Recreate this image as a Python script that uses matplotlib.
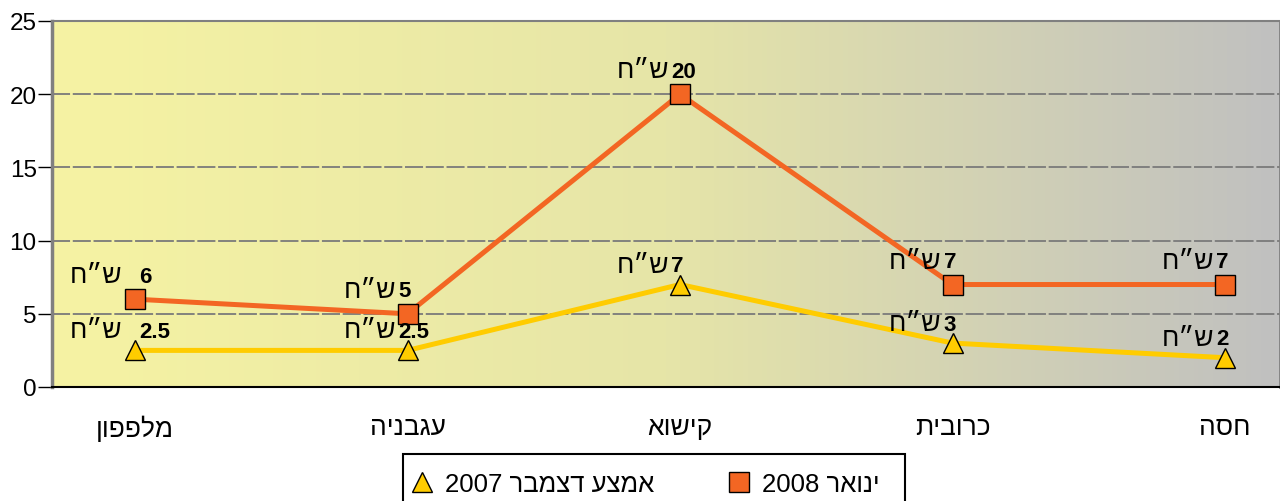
import numpy as np
import matplotlib
matplotlib.use("Agg")
import matplotlib.pyplot as plt
from matplotlib.colors import LinearSegmentedColormap
from matplotlib.lines import Line2D
from matplotlib.patches import Rectangle

plt.rcParams['font.family'] = ['Liberation Sans', 'DejaVu Sans']

# data (logical order, right-to-left text)
categories = ["מלפפון", "עגבניה", "קישוא", "כרובית", "חסה"]
jan_2008 = [6, 5, 20, 7, 7]
dec_2007 = [2.5, 2.5, 7, 3, 2]
series_names = ["ינואר 2008", "אמצע דצמבר 2007"]
unit = "ש״ח"
y_ticks = [0, 5, 10, 15, 20, 25]

ORANGE = "#f36623"
YELLOW = "#ffcc00"


def heb(s):
    """matplotlib has no bidi, so turn a logical RTL string into visual order"""
    tokens = s.split(" ")[::-1]
    out = []
    for t in tokens:
        if any('\u0590' <= c <= '\u05ff' for c in t):
            out.append(t[::-1])
        else:
            out.append(t)
    return " ".join(out)


PX = 0.72  # points per pixel at dpi 100
W, H = 1280, 502

fig = plt.figure(figsize=(12.8, 5.02), dpi=100)
ax = fig.add_axes([52 / W, 114 / H, 1 - 52 / W, 366 / H])

x = np.arange(len(categories))
ax.set_xlim(-0.3046, 4.2018)
ax.set_ylim(0, 25)

# gradient background
cmap = LinearSegmentedColormap.from_list("bg", ["#f6f3a3", "#e6e5a8", "#c0c0c0"])
grad = np.linspace(0, 1, 256).reshape(1, -1)
ax.imshow(grad, extent=[0, 1, 0, 1], transform=ax.transAxes, aspect='auto',
          cmap=cmap, zorder=0)

# grid lines
for v in y_ticks[1:-1]:
    ax.axhline(v, color="#7a7a7a", lw=1.3, dashes=(10, 1.5), zorder=1)

ax.plot(x, jan_2008, color=ORANGE, lw=3.6, marker='s', ms=14.4,
        mfc=ORANGE, mec='black', mew=1, zorder=3)
ax.plot(x, dec_2007, color=YELLOW, lw=3.6, marker='^', ms=14.4,
        mfc=YELLOW, mec='black', mew=1, zorder=3)

# data labels: bold number with the currency unit to its left
for vals, dy in ((jan_2008, 23), (dec_2007, 19)):
    for i, v in enumerate(vals):
        if i == 0:
            nx, gap = 4, 17
        else:
            nx, gap = -9, 2
        ax.annotate(f"{v:g}", (x[i], v), xytext=(nx * PX, dy * PX),
                    textcoords='offset points', ha='left', va='center',
                    fontsize=16, fontweight='bold', zorder=4)
        ax.annotate(heb(unit), (x[i], v), xytext=((nx - gap) * PX, (dy + 1) * PX),
                    textcoords='offset points', ha='right', va='center',
                    fontsize=19, zorder=4)

# axes styling
ax.set_yticks(y_ticks)
ax.set_yticklabels([str(t) for t in y_ticks])
ax.tick_params(axis='y', length=10, width=1, pad=1, labelsize=17.5, color='black')
ax.set_xticks(x)
ax.set_xticklabels([heb(c) for c in categories])
ax.tick_params(axis='x', which='major', length=0, pad=20, labelsize=19)
ax.set_xticks(x[1:], minor=True)
ax.tick_params(axis='x', which='minor', length=10, width=1, color='black')

ax.spines['left'].set_color('#808080')
ax.spines['left'].set_linewidth(2.5)
ax.spines['top'].set_color('#808080')
ax.spines['top'].set_linewidth(1.5)
ax.spines['bottom'].set_color('black')
ax.spines['bottom'].set_linewidth(1.5)
ax.spines['right'].set_color('#808080')
ax.spines['right'].set_linewidth(2)

# legend box (runs off the bottom edge, as in the original)
fig.add_artist(Rectangle((403 / W, -0.1), 502 / W, 0.1 + 1 - 455 / H,
                         transform=fig.transFigure, facecolor='white',
                         edgecolor='black', lw=1.5, zorder=5))

# legend (RTL order: first series on the right)
handles = [
    Line2D([], [], ls='none', marker='^', ms=14.4, mfc=YELLOW, mec='black', mew=1),
    Line2D([], [], ls='none', marker='s', ms=14, mfc=ORANGE, mec='black', mew=1),
]
labels = [heb(series_names[1]), heb(series_names[0])]
leg = fig.legend(handles, labels, loc='center left',
                 bbox_to_anchor=(412 / W, 1 - 485 / H), ncol=2,
                 fontsize=18.5, frameon=False,
                 handlelength=0.78, handletextpad=0.5, columnspacing=2.9,
                 borderpad=0, borderaxespad=0)
leg.set_zorder(6)

fig.savefig("out.png", dpi=100)
